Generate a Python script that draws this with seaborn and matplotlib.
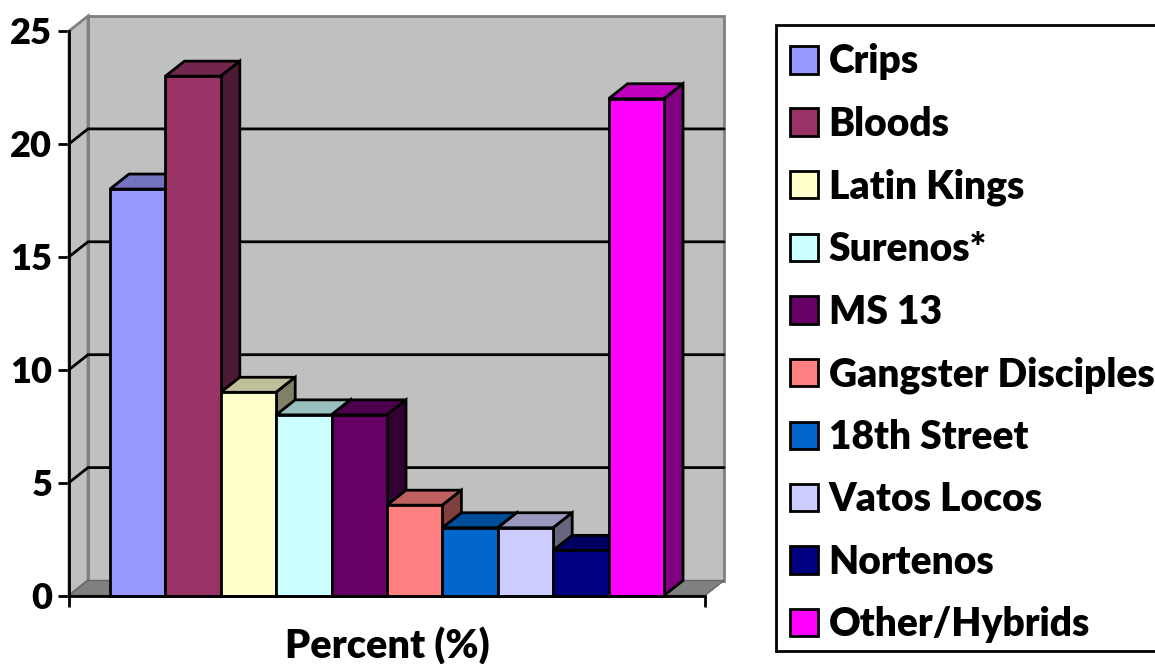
import matplotlib
matplotlib.use('Agg')
import matplotlib.pyplot as plt
from matplotlib.patches import Patch, Polygon, Rectangle
from matplotlib.colors import to_rgb
import pandas as pd
import seaborn as sns

gangs = ['Crips', 'Bloods', 'Latin Kings', 'Surenos*', 'MS 13', 'Gangster Disciples',
         '18th Street', 'Vatos Locos', 'Nortenos', 'Other/Hybrids']
percent = [18, 23, 9, 8, 8, 4, 3, 3, 2, 22]
colors = ['#9999FF', '#993366', '#FFFFCC', '#CCFFFF', '#660066', '#FF8080',
          '#0066CC', '#CCCCFF', '#000080', '#FF00FF']
yticks = [0, 5, 10, 15, 20, 25]

W, H = 1155, 664
sns.set_theme(style='white')
plt.rcParams['font.family'] = ['Lato', 'DejaVu Sans']
plt.rcParams['font.weight'] = 'heavy'


def shade(color, k):
    return tuple(c * k for c in to_rgb(color))


fig = plt.figure(figsize=(W / 100, H / 100), dpi=100)
ax = fig.add_axes([69 / W, (H - 595.5) / H, 636 / W, 564.5 / H])

df = pd.DataFrame({'group': ['Percent (%)'] * len(gangs), 'gang': gangs, 'percent': percent})
sns.barplot(data=df, x='group', y='percent', hue='gang', hue_order=gangs, palette=colors,
            width=554 / 636, saturation=1, legend=False, edgecolor='black', linewidth=2, ax=ax)

ax.set_xlim(-0.5, 0.5)
ax.set_ylim(0, 25)

# depth of the fake 3d box, in data units
dx = 19 / 636
dy = 15 / 564.5 * 25

# walls and floor
wall = '#C0C0C0'
edge = '#808080'
ax.add_patch(Polygon([(-0.5 + dx, dy), (0.5 + dx, dy), (0.5 + dx, 25 + dy), (-0.5 + dx, 25 + dy)],
                     fc=wall, ec=edge, lw=2, zorder=1, clip_on=False))
ax.add_patch(Polygon([(-0.5, 0), (-0.5 + dx, dy), (-0.5 + dx, 25 + dy), (-0.5, 25)],
                     fc=wall, ec=edge, lw=2, zorder=1, clip_on=False))
ax.add_patch(Polygon([(-0.5, 0), (0.5, 0), (0.5 + dx, dy), (-0.5 + dx, dy)],
                     fc=edge, ec='#666666', lw=1, zorder=1.1, clip_on=False))

# gridlines run across the back wall and down the side wall
for t in yticks[1:-1]:
    ax.plot([-0.5, -0.5 + dx, 0.5 + dx], [t, t + dy, t + dy], color='black', lw=2,
            zorder=1.5, clip_on=False, solid_joinstyle='miter')

# tops and sides of the bars, painted left to right
bars = [b for c in ax.containers for b in c]
for i, (bar, col) in enumerate(zip(bars, colors)):
    x0 = bar.get_x()
    x1 = x0 + bar.get_width()
    h = bar.get_height()
    z = 2 + i
    ax.add_patch(Polygon([(x0, h), (x1, h), (x1 + dx, h + dy), (x0 + dx, h + dy)],
                         fc=shade(col, 0.75), ec='black', lw=2, zorder=z, clip_on=False,
                         joinstyle='miter'))
    ax.add_patch(Polygon([(x1, 0), (x1 + dx, dy), (x1 + dx, h + dy), (x1, h)],
                         fc=shade(col, 0.5), ec='black', lw=2, zorder=z, clip_on=False,
                         joinstyle='miter'))
    bar.set_zorder(z + 0.5)
    bar.set_clip_on(False)

for s in ['top', 'right']:
    ax.spines[s].set_visible(False)
for s in ['left', 'bottom']:
    ax.spines[s].set_color('black')
    ax.spines[s].set_linewidth(2)
    ax.spines[s].set_zorder(30)

ax.set_xticks([-0.5, 0.5], ['', ''])
ax.set_yticks(yticks)
ax.tick_params(axis='both', which='major', left=True, bottom=True, length=8, width=2,
               color='black', pad=4)
ax.tick_params(axis='y', labelsize=26, labelcolor='black')
for t in ax.get_yticklabels():
    t.set_fontweight('heavy')
ax.set_ylabel('')
ax.set_xlabel('')
fig.text(387 / W, (H - 646) / H, 'Percent (%)', fontsize=28.5, fontweight='heavy',
         color='black', ha='center', va='center')

# legend box runs off the right edge of the picture
fig.add_artist(Rectangle((776 / W, (H - 651) / H), 400 / W, 626 / H, transform=fig.transFigure,
                         fc='white', ec='black', lw=2))
handles = [Patch(facecolor=c, edgecolor='black', linewidth=2) for c in colors]
leg = fig.legend(handles, gangs, loc='upper left', bbox_to_anchor=(790 / W, (H - 43.5) / H),
                 bbox_transform=fig.transFigure, frameon=False, borderaxespad=0, borderpad=0,
                 handlelength=0.71, handleheight=0.71, handletextpad=0.28, labelspacing=0.651,
                 prop={'family': 'Lato', 'weight': 'heavy', 'size': 28.1})
for t in leg.get_texts():
    t.set_color('black')

fig.savefig('out.png', dpi=100)
